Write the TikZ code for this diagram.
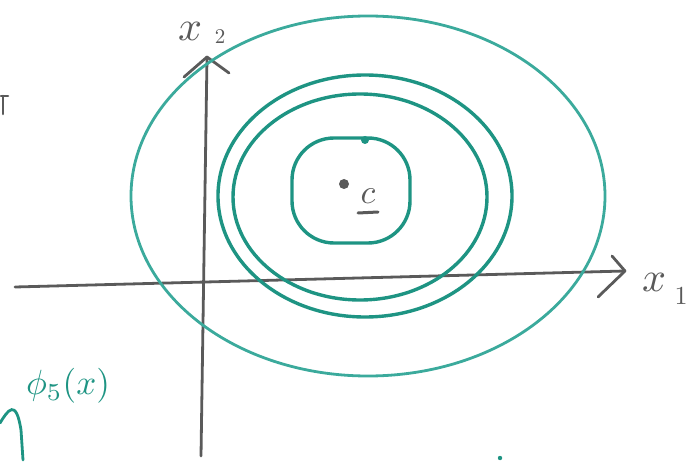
\documentclass[tikz,border=0pt]{standalone}
\usepackage{graphicx}
\usepackage{tikz}
\definecolor{tealA}{HTML}{3BAA9C}
\definecolor{tealB}{HTML}{1E9483}
\definecolor{axgray}{HTML}{5A5A5A}
\tikzset{
  axis/.style={draw=axgray, line width=2.8pt, line cap=round, line join=round},
  ring/.style={draw=tealB, line width=3.4pt},
  outerring/.style={draw=tealA, line width=2.8pt},
  lbl/.style={text=axgray, inner sep=0pt},
}
\begin{document}
\begin{tikzpicture}[x=1pt,y=-1pt]
\useasboundingbox (0,0) rectangle (695,462);
% axes
\coordinate (hstart) at (15,287);
\coordinate (hend) at (625,271);
\coordinate (vstart) at (201,456);
\coordinate (vend) at (207,57);
\draw[axis] (hstart) -- (hend);
\draw[axis] (612,256) -- (hend) -- (598,297);
\draw[axis] (vstart) -- (vend);
\draw[axis] (184,77) -- (vend) -- (229,73);
% ellipses
\draw[outerring] (368,196) ellipse [x radius=237, y radius=180];
\draw[ring] (365,196) ellipse [x radius=147, y radius=121];
\draw[ring] (360,197) ellipse [x radius=127, y radius=103];
\draw[ring, rounded corners=42] (292,138) rectangle (410,243);
\fill[tealB] (365,140) circle (4);
% centre point
\fill[axgray] (344,184) circle (5);
\node[lbl] (c) at (368,196) {\scalebox{3.4}{$c$}};
\draw[axgray, line width=3pt, line cap=round] (358,213) -- (378,212);
% axis labels
\node[lbl] (x2) at (190,31) {\scalebox{4.2}{$x$}};
\node[lbl] (x2s) at (220,37) {\scalebox{2.1}{$2$}};
\node[lbl] (x1) at (654,282) {\scalebox{4.2}{$x$}};
\node[lbl] (x1s) at (681,296) {\scalebox{2.6}{$1$}};
% phi label
\node[text=tealB, inner sep=0pt] (phi) at (68,386) {\scalebox{3.5}{$\phi_5(x)$}};
\draw[tealB, line width=2.8pt, line cap=round] (0,423) .. controls (8,410) and (16,398) .. (21,430) -- (23,460);
% stray marks
\draw[axgray, line width=2.6pt, line cap=round] (1,96) -- (8,96) (3,96) -- (3,114);
\fill[tealB] (500,458) circle (2.2);
\end{tikzpicture}
\end{document}
